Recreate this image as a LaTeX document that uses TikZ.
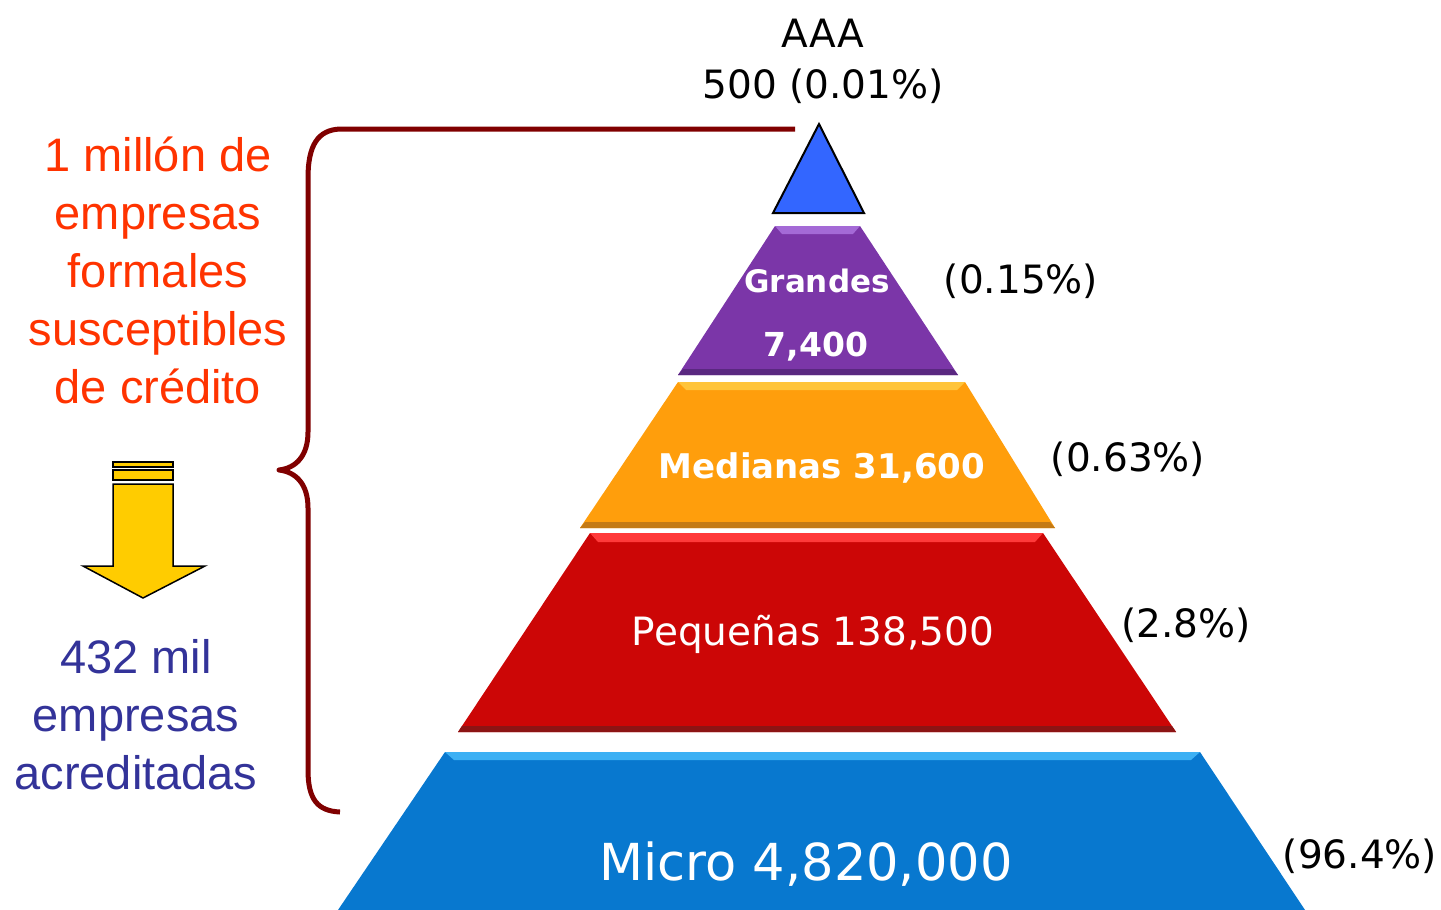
\documentclass[tikz,border=0pt]{standalone}
\usepackage{fontspec}
\setmainfont{DejaVu Sans}
\newfontfamily\arialfont{Liberation Sans}
\usetikzlibrary{positioning}

\definecolor{aaablue}{HTML}{3366FF}
\definecolor{grpurple}{HTML}{7B36A8}
\definecolor{grpurpleL}{HTML}{A46AD6}
\definecolor{grpurpleD}{HTML}{5A2880}
\definecolor{medorange}{HTML}{FF9E0C}
\definecolor{medorangeL}{HTML}{FFC43A}
\definecolor{medorangeD}{HTML}{C47A14}
\definecolor{pqred}{HTML}{CC0606}
\definecolor{pqredL}{HTML}{FF3A3A}
\definecolor{pqredD}{HTML}{8C1414}
\definecolor{mcblue}{HTML}{0878CF}
\definecolor{mcblueL}{HTML}{3CB0F4}
\definecolor{bracered}{HTML}{800000}
\definecolor{txtred}{HTML}{FF3300}
\definecolor{txtblue}{HTML}{333399}
\definecolor{arrowyellow}{HTML}{FFCC00}

\begin{document}
\begin{tikzpicture}[x=1pt,y=-1pt,
  pct/.style={anchor=base,inner sep=0pt,font=\fontsize{39}{46}\selectfont},
  inlbl/.style={anchor=base,inner sep=0pt,text=white},
  sidetxt/.style={align=center,inner sep=0pt,
    font=\arialfont\fontsize{47}{58}\selectfont}]
\useasboundingbox (0,0) rectangle (1441,910);

% top of the pyramid
\draw[fill=aaablue,line width=2pt,line join=miter] (819,124) -- (864,213) -- (773,213) -- cycle;
\node[pct] (aaa) at (823,47) {AAA};
\node[pct] (aaanum) at (823,98) {500 (0.01\%)};

% Grandes
\fill[grpurple] (775,226) -- (860,226) -- (958,375) -- (678,375) -- cycle;
\fill[grpurpleL] (775,226) -- (860,226) -- (853,234) -- (782,234) -- cycle;
\fill[grpurpleD] (683,369) -- (953,369) -- (958,375) -- (678,375) -- cycle;
\node[inlbl,font=\bfseries\fontsize{31}{36}\selectfont] (grandes) at (817,292) {Grandes};
\node[inlbl,font=\bfseries\fontsize{33}{38}\selectfont] (grnum) at (816,356) {7,400};
\node[pct] (grpct) at (1021,293) {(0.15\%)};

% Medianas
\fill[medorange] (678,382) -- (965,382) -- (1055,528) -- (580,528) -- cycle;
\fill[medorangeL] (678,382) -- (965,382) -- (957,390) -- (686,390) -- cycle;
\fill[medorangeD] (585,522) -- (1050,522) -- (1055,528) -- (580,528) -- cycle;
\node[inlbl,font=\bfseries\fontsize{34}{40}\selectfont] (medianas) at (822,478) {Medianas 31,600};
\node[pct] (medpct) at (1128,471) {(0.63\%)};

% Pequenas
\fill[pqred] (590,533) -- (1043,533) -- (1176,732) -- (458,732) -- cycle;
\fill[pqredL] (590,533) -- (1043,533) -- (1035,542) -- (598,542) -- cycle;
\fill[pqredD] (462,726) -- (1172,726) -- (1176,732) -- (458,732) -- cycle;
\node[inlbl,font=\fontsize{39}{46}\selectfont] (pequenas) at (813,645) {Pequeñas 138,500};
\node[pct] (pqpct) at (1186,637) {(2.8\%)};

% Micro
\fill[mcblue] (445,752) -- (1200,752) -- (1305,910) -- (338,910) -- cycle;
\fill[mcblueL] (445,752) -- (1200,752) -- (1191,760) -- (454,760) -- cycle;
\node[inlbl,font=\fontsize{51}{60}\selectfont] (micro) at (806,880) {Micro 4,820,000};
\node[pct] (mcpct) at (1360,868) {(96.4\%)};

% brace
\coordinate (bracetip) at (279,470);
\draw[bracered,line width=5pt,line join=round] (795,129) -- (340,129)
  .. controls (318,130) and (308,145) .. (308,178) -- (308,432)
  .. controls (308,456) and (296,468) .. (bracetip)
  .. controls (296,472) and (308,484) .. (308,508) -- (308,770)
  .. controls (308,800) and (318,811) .. (340,812);

% left texts
\node[sidetxt,text=txtred] (formales) at (158,270)
  {1 millón de\\empresas\\formales\\susceptibles\\de crédito};
\node[sidetxt,text=txtblue] (acreditadas) at (136,715)
  {432 mil\\empresas\\acreditadas};

% yellow arrow
\draw[fill=arrowyellow,line width=1.5pt] (113,462) rectangle (173,467);
\draw[fill=arrowyellow,line width=1.5pt] (113,470) rectangle (173,480);
\draw[fill=arrowyellow,line width=1.5pt,line join=miter] (113,484) -- (173,484) -- (173,566)
  -- (205,566) -- (143,598) -- (83,566) -- (113,566) -- cycle;

\end{tikzpicture}
\end{document}
